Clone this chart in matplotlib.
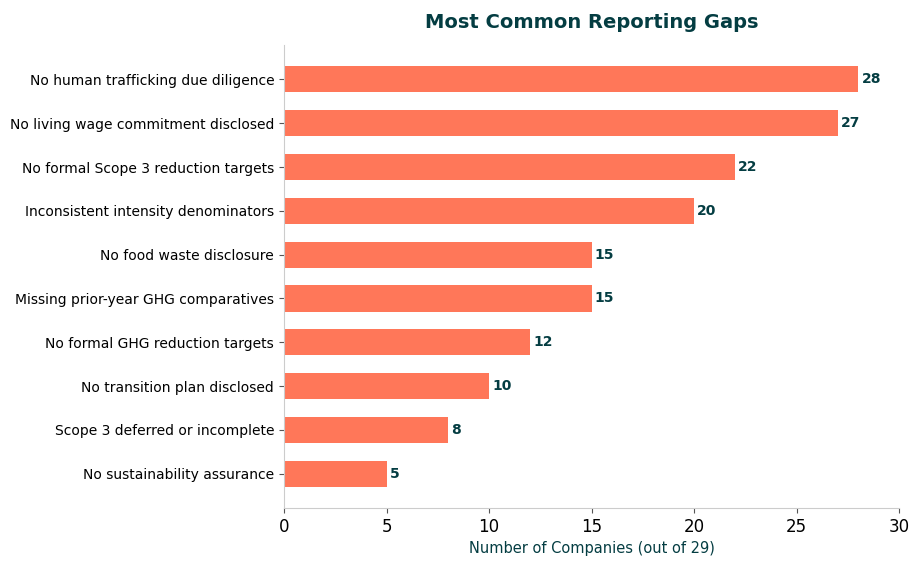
import matplotlib
matplotlib.use("Agg")
from matplotlib import pyplot as plt

plt.rcParams["font.family"] = ["DejaVu Sans"]

gaps = [
    "No human trafficking due diligence",
    "No living wage commitment disclosed",
    "No formal Scope 3 reduction targets",
    "Inconsistent intensity denominators",
    "No food waste disclosure",
    "Missing prior-year GHG comparatives",
    "No formal GHG reduction targets",
    "No transition plan disclosed",
    "Scope 3 deferred or incomplete",
    "No sustainability assurance",
]
counts = [28, 27, 22, 20, 15, 15, 12, 10, 8, 5]

bar_col = "#FF7759"
dark = "#043D42"

fig = plt.figure(figsize=(9.09, 5.61), dpi=100)
ax = fig.add_axes([0.3124, 0.0945, 0.677, 0.825])

ypos = list(range(len(gaps)))[::-1]
ax.barh(ypos, counts, height=0.6, color=bar_col)
for y, c in zip(ypos, counts):
    ax.text(c + 0.15, y, str(c), va="center", ha="left",
            fontsize=10, fontweight="bold", color=dark)

ax.set_yticks(ypos)
ax.set_yticklabels(gaps, fontsize=10)
ax.set_xlim(0, 30)
ax.tick_params(axis="x", labelsize=12, color="#555555")
ax.tick_params(axis="y", color="#555555")
ax.set_xlabel("Number of Companies (out of 29)", fontsize=10.5, color=dark)
ax.set_title("Most Common Reporting Gaps", fontsize=14, fontweight="bold",
             color=dark, pad=12)

for s in ["top", "right"]:
    ax.spines[s].set_visible(False)
for s in ["left", "bottom"]:
    ax.spines[s].set_color("#cccccc")

fig.savefig("out.png", dpi=100)
